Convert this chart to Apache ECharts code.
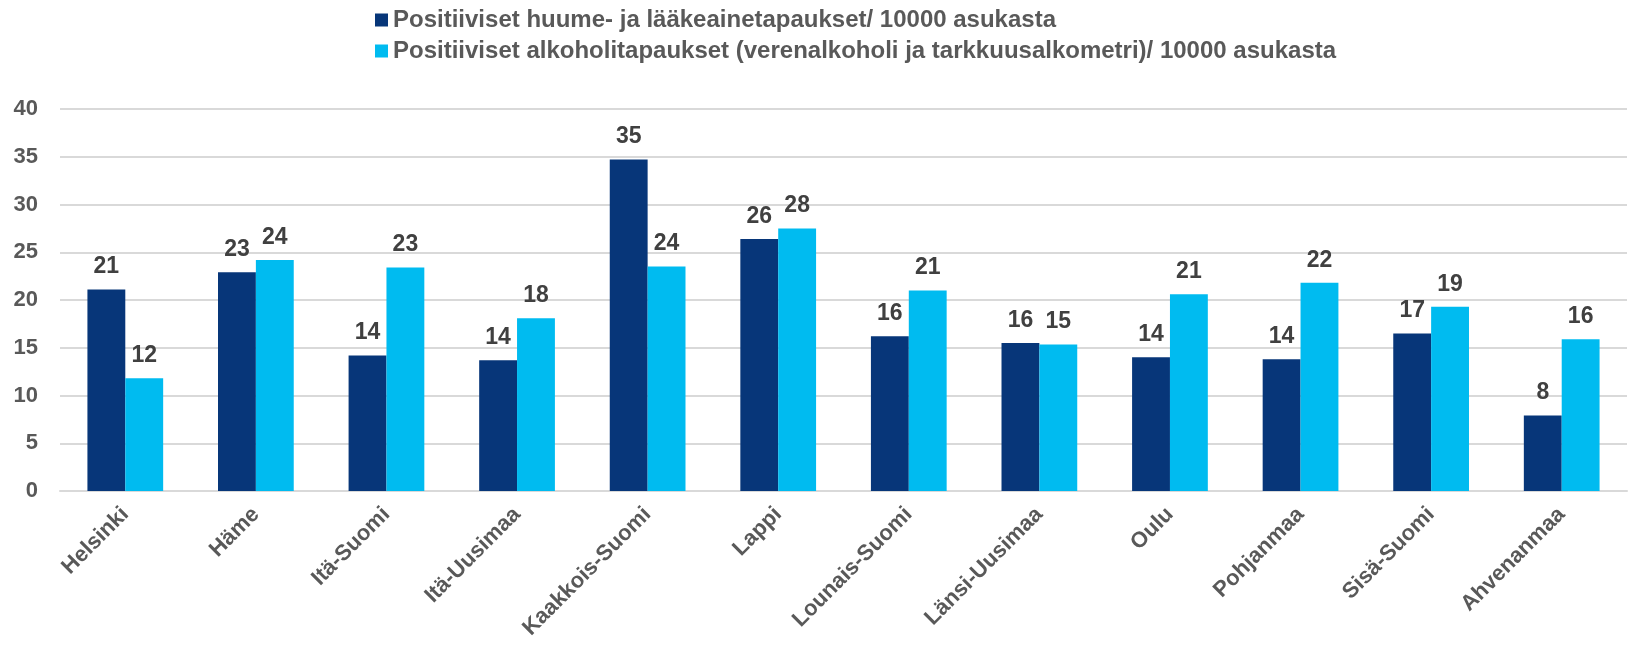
<!DOCTYPE html>
<html>
<head>
<meta charset="utf-8">
<script src="https://cdn.jsdelivr.net/npm/echarts@6/dist/echarts.min.js"></script>
<style>
  html, body { margin: 0; padding: 0; background: #fff; }
  #chart { width: 1648px; height: 652px; }
</style>
</head>
<body>
<div id="chart"></div>
<script>
  var regions = ['Helsinki', 'Häme', 'Itä-Suomi', 'Itä-Uusimaa', 'Kaakkois-Suomi', 'Lappi',
    'Lounais-Suomi', 'Länsi-Uusimaa', 'Oulu', 'Pohjanmaa', 'Sisä-Suomi', 'Ahvenanmaa']
  var huumeet = [21.1, 22.9, 14.2, 13.7, 34.7, 26.4, 16.2, 15.5, 14.0, 13.8, 16.5, 7.9]
  var alkoholi = [11.8, 24.2, 23.4, 18.1, 23.5, 27.5, 21.0, 15.35, 20.6, 21.8, 19.3, 15.9]
  var seriesNames = [
    'Positiiviset huume- ja lääkeainetapaukset/ 10000 asukasta',
    'Positiiviset alkoholitapaukset (verenalkoholi ja tarkkuusalkometri)/ 10000 asukasta'
  ]
  var yTicks = [0, 5, 10, 15, 20, 25, 30, 35, 40]

  var font = 'Liberation Sans, Arial, sans-serif'
  var labelStyle = {
    show: true,
    position: 'top',
    distance: 11,
    fontFamily: font,
    fontWeight: 'bold',
    fontSize: 23,
    color: '#404040',
    formatter: function (p) { return Math.round(p.value) }
  }

  var chart = echarts.init(document.getElementById('chart'))
  chart.setOption({
    animation: false,
    textStyle: { fontFamily: font },
    legend: {
      orient: 'vertical',
      left: 371,
      top: 8,
      padding: [0, 0, 0, 4],
      itemWidth: 13,
      itemHeight: 13,
      itemGap: 7,
      icon: 'rect',
      textStyle: { fontFamily: font, fontWeight: 'bold', fontSize: 24, color: '#595959' },
      data: seriesNames
    },
    grid: { left: 60, right: 21, top: 109, bottom: 161 },
    xAxis: {
      type: 'category',
      data: regions,
      axisTick: { show: false },
      axisLine: { lineStyle: { color: '#D9D9D9', width: 2 } },
      axisLabel: {
        interval: 0,
        rotate: 45,
        margin: 20,
        fontFamily: font,
        fontWeight: 'bold',
        fontSize: 22,
        color: '#595959'
      }
    },
    yAxis: {
      type: 'value',
      min: yTicks[0],
      max: yTicks[yTicks.length - 1],
      interval: 5,
      axisLine: { show: false },
      axisTick: { show: false },
      splitLine: { lineStyle: { color: '#D9D9D9', width: 2 } },
      axisLabel: {
        margin: 22,
        fontFamily: font,
        fontWeight: 'bold',
        fontSize: 22,
        color: '#595959'
      }
    },
    series: [
      {
        name: seriesNames[0],
        type: 'bar',
        data: huumeet,
        barGap: '0%',
        barCategoryGap: '42%',
        itemStyle: { color: '#073679' },
        label: labelStyle
      },
      {
        name: seriesNames[1],
        type: 'bar',
        data: alkoholi,
        itemStyle: { color: '#00BBF0' },
        label: labelStyle
      }
    ]
  })
</script>
</body>
</html>
